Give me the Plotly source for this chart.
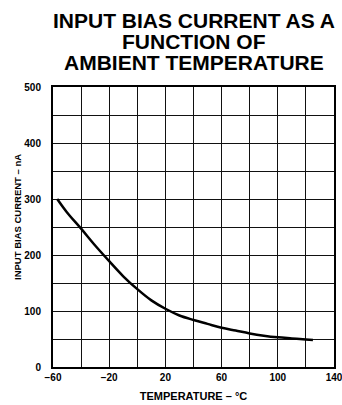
import plotly.graph_objects as go

temperature_c = [-57, -50, -40, -30, -20, -10, 0, 10, 20, 30, 40, 50, 60, 70, 80, 90, 100, 110, 120, 125]
bias_current_na = [300, 276, 247, 217, 189, 162, 139, 119, 104, 92, 84, 77, 70, 65, 60, 56, 53, 51, 49, 48]

x_tick_values = [-60, -20, 20, 60, 100, 140]
y_tick_values = [0, 100, 200, 300, 400, 500]
title_lines = ["INPUT BIAS CURRENT AS A", "FUNCTION OF", "AMBIENT TEMPERATURE"]
x_title = "TEMPERATURE – °C"
y_title = "INPUT BIAS CURRENT – nA"

FONT = "Liberation Sans, Arial, sans-serif"

fig = go.Figure()
fig.add_trace(go.Scatter(
    x=temperature_c, y=bias_current_na, mode="lines",
    line=dict(color="black", width=2.5, shape="spline", smoothing=1.0),
    hoverinfo="skip", showlegend=False,
))

axis_common = dict(
    showline=True, linecolor="black", linewidth=2, mirror=True,
    showgrid=True, gridcolor="#111", gridwidth=1,
    ticks="", zeroline=False, automargin=False,
    ticklabeloverflow="allow",
    tickfont=dict(family=FONT, size=10, color="black", weight="bold"),
)

fig.update_xaxes(
    range=[-60, 140], tickvals=x_tick_values,
    minor=dict(dtick=20, showgrid=True, gridcolor="#111", gridwidth=1, ticks=""),
    title=dict(text=x_title, font=dict(family=FONT, size=11, color="black", weight="bold"), standoff=10),
    **axis_common,
)
fig.update_yaxes(
    range=[0, 500], tickvals=y_tick_values,
    minor=dict(dtick=50, showgrid=True, gridcolor="#111", gridwidth=1, ticks=""),
    ticklabelstandoff=8,
    **axis_common,
)

# y-axis title as a rotated annotation (placed in pixels relative to the plot area)
fig.add_annotation(
    text=y_title, textangle=-90, xref="paper", x=0, xshift=17 - 53,
    yref="paper", y=0.5, yshift=227 - 217,
    showarrow=False, xanchor="center", yanchor="middle",
    font=dict(family=FONT, size=9.5, color="black", weight="bold"),
)

title_y = [20, 41, 62]
for txt, yp in zip(title_lines, title_y):
    fig.add_annotation(
        text=txt, xref="paper", x=0.5, yref="paper", y=1, yshift=87 - yp,
        showarrow=False, xanchor="center", yanchor="middle",
        font=dict(family=FONT, size=21, color="black", weight="bold"),
    )

fig.update_layout(
    width=342, height=405,
    margin=dict(l=53, r=8, t=87, b=38),
    paper_bgcolor="white", plot_bgcolor="white",
)

fig.write_html("out.html", config={"displayModeBar": False},
               post_script="document.body.style.margin='0';")
